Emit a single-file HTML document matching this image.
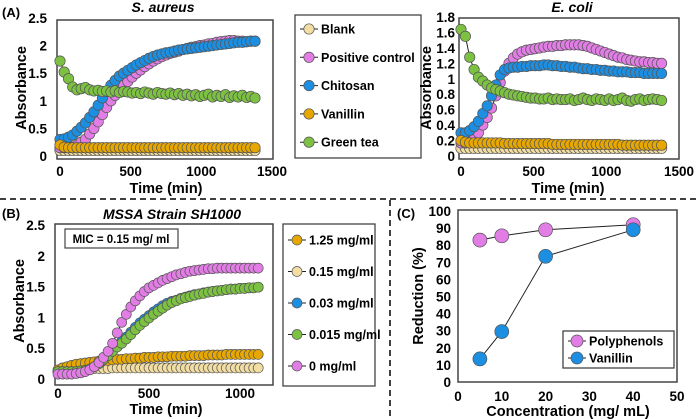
<!DOCTYPE html>
<html><head><meta charset="utf-8"><style>
html,body{margin:0;padding:0;background:#fff}
svg{display:block;font-family:"Liberation Sans",Arial,sans-serif;font-weight:bold}
</style></head><body>
<svg id="fig" width="700" height="419" viewBox="0 0 700 419" xmlns="http://www.w3.org/2000/svg">
<line x1="0" y1="199" x2="700" y2="199" stroke="#000" stroke-width="1.5" stroke-dasharray="6,4"/>
<line x1="390" y1="200" x2="390" y2="419" stroke="#000" stroke-width="1.5" stroke-dasharray="6,4"/>
<text x="2" y="17" font-size="13">(A)</text>
<text x="2" y="218" font-size="13">(B)</text>
<text x="397" y="218" font-size="13">(C)</text>
</svg>
<script>
// ---- Panel A left (S. aureus) ----
const timesA = [0,30,60,90,120,150,180,210,240,270,300,330,360,390,420,450,480,510,540,570,600,630,660,690,720,750,780,810,840,870,900,930,960,990,1020,1050,1080,1110,1140,1170,1200,1230,1260,1290,1320,1350,1380];
const saBlank = [0.10,0.10,0.10,0.10,0.10,0.10,0.10,0.10,0.10,0.10,0.10,0.10,0.10,0.10,0.10,0.10,0.10,0.10,0.10,0.10,0.10,0.10,0.10,0.10,0.10,0.10,0.10,0.10,0.10,0.10,0.10,0.10,0.10,0.10,0.10,0.10,0.10,0.10,0.10,0.10,0.10,0.10,0.10,0.10,0.10,0.10,0.10];
const saPositive = [0.15,0.15,0.15,0.16,0.20,0.25,0.30,0.40,0.50,0.62,0.75,0.88,1.00,1.10,1.20,1.28,1.35,1.43,1.50,1.56,1.62,1.67,1.72,1.76,1.80,1.83,1.86,1.88,1.90,1.93,1.95,1.97,1.98,2.00,2.01,2.03,2.04,2.06,2.07,2.08,2.09,2.09,2.08,2.08,2.07,2.08,2.08];
const saChitosan = [0.30,0.31,0.34,0.38,0.45,0.52,0.60,0.70,0.80,0.92,1.05,1.17,1.28,1.37,1.45,1.50,1.55,1.60,1.65,1.69,1.73,1.77,1.80,1.83,1.85,1.87,1.88,1.90,1.92,1.93,1.94,1.95,1.96,1.97,1.98,1.99,2.00,2.01,2.02,2.03,2.04,2.05,2.06,2.06,2.07,2.08,2.08];
const saVanillin = [0.20,0.16,0.15,0.15,0.15,0.15,0.15,0.15,0.15,0.15,0.15,0.15,0.15,0.15,0.15,0.15,0.15,0.15,0.15,0.15,0.15,0.15,0.15,0.15,0.15,0.15,0.15,0.15,0.15,0.15,0.15,0.15,0.15,0.15,0.15,0.15,0.15,0.15,0.15,0.15,0.15,0.15,0.15,0.15,0.15,0.15,0.15];
const saGreenTea = [1.72,1.52,1.40,1.25,1.20,1.22,1.24,1.20,1.18,1.19,1.17,1.18,1.16,1.18,1.15,1.17,1.16,1.14,1.15,1.13,1.16,1.14,1.12,1.15,1.13,1.12,1.14,1.11,1.13,1.10,1.12,1.09,1.11,1.08,1.10,1.12,1.07,1.10,1.08,1.11,1.06,1.09,1.07,1.10,1.06,1.08,1.05];
// ---- Panel A right (E. coli) ----
const ecBlank = [0.10,0.10,0.10,0.10,0.10,0.10,0.10,0.10,0.10,0.10,0.10,0.10,0.10,0.10,0.10,0.10,0.10,0.10,0.10,0.10,0.10,0.10,0.10,0.10,0.10,0.10,0.10,0.10,0.10,0.10,0.10,0.10,0.10,0.10,0.10,0.10,0.10,0.10,0.10,0.10,0.10,0.10,0.10,0.10,0.10,0.10,0.10];
const ecPositive = [0.17,0.17,0.18,0.22,0.30,0.40,0.50,0.62,0.78,0.95,1.10,1.20,1.27,1.32,1.35,1.37,1.38,1.39,1.40,1.41,1.42,1.42,1.43,1.43,1.44,1.44,1.44,1.44,1.43,1.42,1.40,1.38,1.36,1.34,1.32,1.30,1.28,1.27,1.25,1.24,1.23,1.22,1.22,1.21,1.21,1.20,1.20];
const ecChitosan = [0.30,0.30,0.33,0.38,0.45,0.55,0.65,0.78,0.92,1.05,1.12,1.14,1.15,1.15,1.16,1.16,1.17,1.17,1.17,1.18,1.18,1.17,1.17,1.16,1.16,1.15,1.15,1.14,1.13,1.13,1.12,1.12,1.11,1.11,1.10,1.10,1.09,1.09,1.09,1.08,1.08,1.08,1.07,1.07,1.07,1.07,1.07];
const ecVanillin = [0.20,0.18,0.17,0.17,0.17,0.17,0.17,0.17,0.17,0.17,0.16,0.16,0.16,0.16,0.16,0.16,0.16,0.16,0.16,0.16,0.16,0.15,0.15,0.15,0.15,0.15,0.15,0.15,0.15,0.15,0.15,0.15,0.15,0.15,0.15,0.15,0.15,0.14,0.14,0.14,0.14,0.14,0.14,0.14,0.14,0.14,0.14];
const ecGreenTea = [1.64,1.55,1.28,1.12,1.02,0.97,0.92,0.88,0.86,0.84,0.82,0.80,0.79,0.78,0.77,0.76,0.75,0.75,0.74,0.74,0.75,0.73,0.74,0.73,0.73,0.74,0.72,0.73,0.75,0.73,0.72,0.74,0.73,0.72,0.74,0.72,0.73,0.75,0.72,0.71,0.73,0.74,0.72,0.73,0.74,0.73,0.72];
// ---- Panel B (MSSA) ----
const timesB = [0,25,50,75,100,125,150,175,200,225,250,275,300,325,350,375,400,425,450,475,500,525,550,575,600,625,650,675,700,725,750,775,800,825,850,875,900,925,950,975,1000,1025,1050,1075,1100];
const b125 = [0.15,0.18,0.20,0.22,0.24,0.25,0.26,0.27,0.28,0.29,0.30,0.30,0.31,0.32,0.32,0.33,0.33,0.34,0.34,0.35,0.35,0.35,0.36,0.36,0.36,0.37,0.37,0.37,0.37,0.38,0.38,0.38,0.38,0.39,0.39,0.39,0.39,0.40,0.40,0.40,0.40,0.40,0.40,0.40,0.40];
const b015 = [0.13,0.13,0.14,0.14,0.15,0.15,0.16,0.16,0.17,0.17,0.17,0.17,0.18,0.18,0.18,0.18,0.18,0.18,0.18,0.18,0.18,0.18,0.18,0.18,0.18,0.18,0.18,0.18,0.18,0.18,0.18,0.18,0.18,0.18,0.18,0.18,0.18,0.18,0.18,0.18,0.18,0.18,0.18,0.18,0.18];
const b003 = [0.12,0.12,0.12,0.12,0.12,0.13,0.14,0.16,0.20,0.25,0.32,0.39,0.46,0.54,0.61,0.68,0.76,0.84,0.91,0.97,1.03,1.09,1.14,1.19,1.23,1.26,1.28,1.31,1.33,1.35,1.37,1.38,1.40,1.41,1.42,1.43,1.44,1.45,1.46,1.46,1.47,1.47,1.48,1.48,1.49];
const b0015 = [0.12,0.12,0.12,0.12,0.12,0.13,0.14,0.16,0.20,0.25,0.32,0.38,0.45,0.52,0.58,0.65,0.72,0.80,0.87,0.93,0.99,1.05,1.10,1.15,1.20,1.24,1.27,1.30,1.32,1.34,1.36,1.38,1.39,1.41,1.42,1.43,1.44,1.45,1.46,1.46,1.47,1.47,1.48,1.48,1.49];
const b0 = [0.08,0.08,0.08,0.08,0.09,0.10,0.12,0.15,0.20,0.27,0.35,0.45,0.58,0.75,0.92,1.05,1.17,1.27,1.35,1.42,1.48,1.52,1.56,1.60,1.63,1.66,1.69,1.71,1.73,1.75,1.76,1.77,1.78,1.79,1.79,1.80,1.80,1.80,1.80,1.80,1.80,1.80,1.80,1.80,1.80];
// ---- Panel C ----
const concC = [5,10,20,40];
const polyphenolsC = [83,85.5,89,92];
const vanillinC = [13.5,29.5,73.5,89];
const xTicksA = [0,500,1000,1500];
const yTicksAL = [0,0.5,1,1.5,2,2.5];
const yTicksAR = [0,0.2,0.4,0.6,0.8,1,1.2,1.4,1.6,1.8];
const xTicksB = [0,500,1000];
const yTicksB = [0,0.5,1,1.5,2,2.5];
const xTicksC = [0,10,20,30,40,50];
const yTicksC = [0,10,20,30,40,50,60,70,80,90,100];

const C = {pink:'#e27de6',blue:'#1c8fe3',green:'#7cc142',orange:'#e6a700',tan:'#f2dea3'};
const NS='http://www.w3.org/2000/svg';
const svg=document.getElementById('fig');
function mk(tag,attrs,parent){const e=document.createElementNS(NS,tag);for(const k in attrs)e.setAttribute(k,attrs[k]);(parent||svg).appendChild(e);return e;}
function txt(x,y,s,size,anchor,parent,extra){const t=mk('text',Object.assign({x:x,y:y,'font-size':size,'text-anchor':anchor||'middle'},extra||{}),parent);t.textContent=s;return t;}

function panel(o){
  const g=mk('g',{});
  
  
  const sx=v=>o.x0+(v-o.xmin)/(o.xmax-o.xmin)*(o.x1-o.x0);
  const sy=v=>o.y0-(v-o.ymin)/(o.ymax-o.ymin)*(o.y0-o.y1);
  const fr=mk('rect',{x:o.fx0,y:o.fy0,width:o.fx1-o.fx0,height:o.fy1-o.fy0,fill:'none',stroke:'#444','stroke-width':1.5},g);
  
  
  o.xt.forEach(v=>{const t=txt(sx(v),o.xty,String(v),13.5,'middle',g);
    
    });
  o.yt.forEach(v=>{const t=txt(o.ytx,sy(v)+5,String(v),13.5,'end',g);
    
    });
  const xl=txt(o.xlx,o.xly,o.xlabel,14.5,'middle',g);
  
  
  const yl=txt(0,0,o.ylabel,14.5,'middle',g,{transform:`translate(${o.ylx},${o.yly}) rotate(-90)`});
  
  
  if(o.title){const ti=txt(o.tx,o.ty,o.title,14,'middle',g,{'font-style':'italic'});
    
    }
  o.series.forEach(s=>{
    const sg=mk('g',{},g);
    
    
    const pts=s.x.map((xv,i)=>sx(xv).toFixed(1)+','+sy(s.y[i]).toFixed(1)).join(' ');
    const ln=mk('polyline',{points:pts,fill:'none',stroke:'#222','stroke-width':1},sg);
    
    
    s.x.forEach((xv,i)=>{
      const c=mk('circle',{cx:sx(xv).toFixed(1),cy:sy(s.y[i]).toFixed(1),r:o.r,fill:s.color,stroke:'#555','stroke-width':0.7},sg);
      
      
    });
  });
  return g;
}
function legend(x,y,w,h,items,dy,name,r){
  const g=mk('g',{});
  
  
  const b=mk('rect',{x:x,y:y,width:w,height:h,fill:'#fff',stroke:'#444','stroke-width':1.3},g);
  
  
  items.forEach((it,i)=>{
    const yy=y+dy[0]+i*dy[1];
    const e=mk('g',{},g);
    
    
    mk('line',{x1:x+5,y1:yy,x2:x+23,y2:yy,stroke:'#222','stroke-width':1},e);
    mk('circle',{cx:x+14,cy:yy,r:r,fill:it[1],stroke:'#555','stroke-width':0.7},e);
    txt(x+26,yy+4.5,it[0],12.5,'start',e);
  });
}

panel({name:'chart-s-aureus',xmin:0,xmax:1500,ymin:0,ymax:2.5,x0:60,x1:272,y0:156,y1:18,fx0:57,fx1:273,fy0:20,fy1:159,
  xt:xTicksA,yt:yTicksAL,xty:176,ytx:47,xlabel:'Time (min)',xlx:166,xly:193,ylabel:'Absorbance',ylx:26,yly:88,
  title:'S. aureus',tx:163,ty:12,r:5.2,
  series:[{key:'blank',x:timesA,y:saBlank,color:C.tan},{key:'positive-control',x:timesA,y:saPositive,color:C.pink},
    {key:'chitosan',x:timesA,y:saChitosan,color:C.blue},{key:'vanillin',x:timesA,y:saVanillin,color:C.orange},
    {key:'green-tea',x:timesA,y:saGreenTea,color:C.green}]});
legend(295,15,126,143,[['Blank',C.tan],['Positive control',C.pink],['Chitosan',C.blue],['Vanillin',C.orange],['Green tea',C.green]],[14,28.3],'legend-a',5.2);

panel({name:'chart-e-coli',xmin:0,xmax:1500,ymin:0,ymax:1.8,x0:461,x1:679,y0:156,y1:17,fx0:459,fx1:679,fy0:18,fy1:159,
  xt:xTicksA,yt:yTicksAR,xty:176,ytx:455,xlabel:'Time (min)',xlx:568,xly:193,ylabel:'Absorbance',ylx:431,yly:88,
  title:'E. coli',tx:572,ty:12,r:5.2,
  series:[{key:'blank',x:timesA,y:ecBlank,color:C.tan},{key:'positive-control',x:timesA,y:ecPositive,color:C.pink},
    {key:'chitosan',x:timesA,y:ecChitosan,color:C.blue},{key:'vanillin',x:timesA,y:ecVanillin,color:C.orange},
    {key:'green-tea',x:timesA,y:ecGreenTea,color:C.green}]});

panel({name:'chart-mssa',xmin:0,xmax:1000,ymin:0,ymax:2.5,x0:58,x1:240,y0:379,y1:225,fx0:55,fx1:273,fy0:224,fy1:385,
  xt:xTicksB,yt:yTicksB,xty:398,ytx:45,xlabel:'Time (min)',xlx:166,xly:414,ylabel:'Absorbance',ylx:24,yly:301,
  title:'MSSA Strain SH1000',tx:172,ty:219,r:5,
  series:[{key:'0-15-mg-ml',x:timesB,y:b015,color:C.tan},{key:'1-25-mg-ml',x:timesB,y:b125,color:C.orange},
    {key:'0-03-mg-ml',x:timesB,y:b003,color:C.blue},{key:'0-015-mg-ml',x:timesB,y:b0015,color:C.green},
    {key:'0-mg-ml',x:timesB,y:b0,color:C.pink}]});
const mic=mk('rect',{x:65,y:229,width:113,height:19,fill:'#fff',stroke:'#444','stroke-width':1.2});


const mt=txt(121,243,'MIC = 0.15 mg/ ml',11.5,'middle');


legend(283,224,92,162,[['1.25 mg/ml',C.orange],['0.15 mg/ml',C.tan],['0.03 mg/ml',C.blue],['0.015 mg/ml',C.green],['0 mg/ml',C.pink]],[16,31.5],'legend-b',5);

panel({name:'chart-reduction',xmin:0,xmax:50,ymin:0,ymax:100,x0:458,x1:677,y0:382,y1:211,fx0:458,fx1:677,fy0:210,fy1:382,
  xt:xTicksC,yt:yTicksC,xty:401,ytx:451,xlabel:'Concentration (mg/ mL)',xlx:568,xly:416,ylabel:'Reduction (%)',ylx:423,yly:296,
  r:7,
  series:[{key:'polyphenols',x:concC,y:polyphenolsC,color:C.pink},{key:'vanillin',x:concC,y:vanillinC,color:C.blue}]});
legend(563,331,111,37,[['Polyphenols',C.pink],['Vanillin',C.blue]],[10,17],'legend-c',6);
</script>
</body></html>
